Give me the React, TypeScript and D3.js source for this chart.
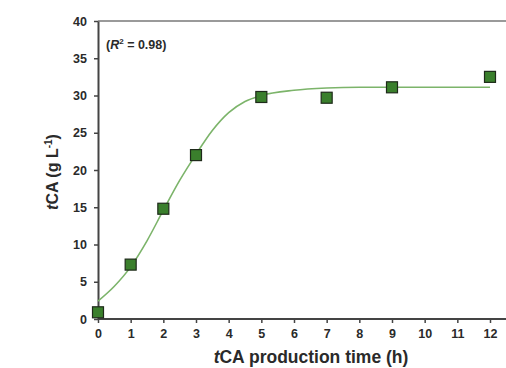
import React, { useEffect, useRef } from 'react';
import * as d3 from 'd3';

// measured points
const hours = [0, 1, 2, 3, 5, 7, 9, 12];
const tca = [0.9, 7.3, 14.8, 22.0, 29.8, 29.7, 31.1, 32.5];

// fitted curve
const fitHours = [0, 0.5, 1, 1.5, 2, 2.5, 3, 3.5, 4, 4.5, 5, 6, 7, 8, 9, 10, 11, 12];
const fitTca = [2.4, 4.4, 7.0, 10.5, 14.6, 18.6, 22.1, 25.3, 27.7, 29.2, 30.0, 30.7, 31.0, 31.1, 31.1, 31.1, 31.1, 31.1];

const xTicks = d3.range(0, 13);
const yTicks = [0, 5, 10, 15, 20, 25, 30, 35, 40];

const W = 506;
const H = 368;
const margin = { top: 21, right: 16, bottom: 49, left: 98 };

export default function App() {
  const svgRef = useRef<SVGSVGElement>(null);

  useEffect(() => {
    const svg = d3.select(svgRef.current);
    svg.selectAll('*').remove();

    const x = d3.scaleLinear().domain([0, 12]).range([margin.left, 490]);
    const y = d3.scaleLinear().domain([0, 40]).range([H - margin.bottom, margin.top]);

    const font = 'Liberation Sans, Arial, sans-serif';

    // top border
    svg.append('line')
      .attr('x1', margin.left).attr('x2', W)
      .attr('y1', y(40)).attr('y2', y(40))
      .attr('stroke', '#9a9a9a').attr('stroke-width', 2);

    const xAxis = svg.append('g')
      .attr('transform', `translate(0,${y(0)})`)
      .call(d3.axisBottom(x).tickValues(xTicks).tickSize(4).tickPadding(6).tickSizeOuter(0));
    xAxis.select('.domain').attr('stroke', '#444').attr('stroke-width', 2)
      .attr('d', `M${margin.left},0H${W}`);
    xAxis.selectAll('.tick line').attr('stroke', '#444').attr('stroke-width', 1.5);
    xAxis.selectAll('.tick text')
      .attr('fill', '#2a2a2a').attr('font-family', font).attr('font-weight', 'bold').attr('font-size', 12.5);

    const yAxis = svg.append('g')
      .attr('transform', `translate(${margin.left},0)`)
      .call(d3.axisLeft(y).tickValues(yTicks).tickSize(4).tickPadding(7).tickSizeOuter(0));
    yAxis.select('.domain').attr('stroke', '#444').attr('stroke-width', 2);
    yAxis.selectAll('.tick line').attr('stroke', '#444').attr('stroke-width', 1.5);
    yAxis.selectAll('.tick text')
      .attr('fill', '#2a2a2a').attr('font-family', font).attr('font-weight', 'bold').attr('font-size', 12.5);

    // fitted curve
    const line = d3.line<number>()
      .x((_, i) => x(fitHours[i]))
      .y((d) => y(d))
      .curve(d3.curveMonotoneX);
    svg.append('path')
      .datum(fitTca)
      .attr('d', line)
      .attr('fill', 'none')
      .attr('stroke', '#7cb46a')
      .attr('stroke-width', 1.6);

    // markers
    const s = 11;
    svg.selectAll('rect.pt')
      .data(tca)
      .enter()
      .append('rect')
      .attr('class', 'pt')
      .attr('x', (_, i) => x(hours[i]) - s / 2)
      .attr('y', (d) => y(d) - s / 2)
      .attr('width', s)
      .attr('height', s)
      .attr('fill', '#3a7f2c')
      .attr('stroke', '#1e2a1a')
      .attr('stroke-width', 1.2);

    // R² annotation
    const r = svg.append('text')
      .attr('x', 106).attr('y', 49)
      .attr('font-family', font).attr('font-weight', 'bold').attr('font-size', 12.5)
      .attr('fill', '#2a2a2a');
    r.append('tspan').text('(');
    r.append('tspan').attr('font-style', 'italic').text('R');
    r.append('tspan').attr('font-size', 8).attr('dy', -5).text('2');
    r.append('tspan').attr('dy', 5).text(' = 0.98)');

    // x label
    const xl = svg.append('text')
      .attr('x', 311).attr('y', 363)
      .attr('text-anchor', 'middle')
      .attr('font-family', font).attr('font-weight', 'bold').attr('font-size', 17.5)
      .attr('fill', '#2a2a2a');
    xl.append('tspan').attr('font-style', 'italic').text('t');
    xl.append('tspan').text('CA production time (h)');

    // y label
    const yl = svg.append('text')
      .attr('transform', `translate(58,172) rotate(-90)`)
      .attr('text-anchor', 'middle')
      .attr('font-family', font).attr('font-weight', 'bold').attr('font-size', 16)
      .attr('fill', '#2a2a2a');
    yl.append('tspan').attr('font-style', 'italic').text('t');
    yl.append('tspan').text('CA (g L');
    yl.append('tspan').attr('font-size', 10).attr('dy', -6).text('-1');
    yl.append('tspan').attr('dy', 6).text(')');
  }, []);

  return (
    <svg
      ref={svgRef}
      width={W}
      height={H}
      style={{ position: 'absolute', left: 0, top: 0, background: '#fff' }}
    />
  );
}
